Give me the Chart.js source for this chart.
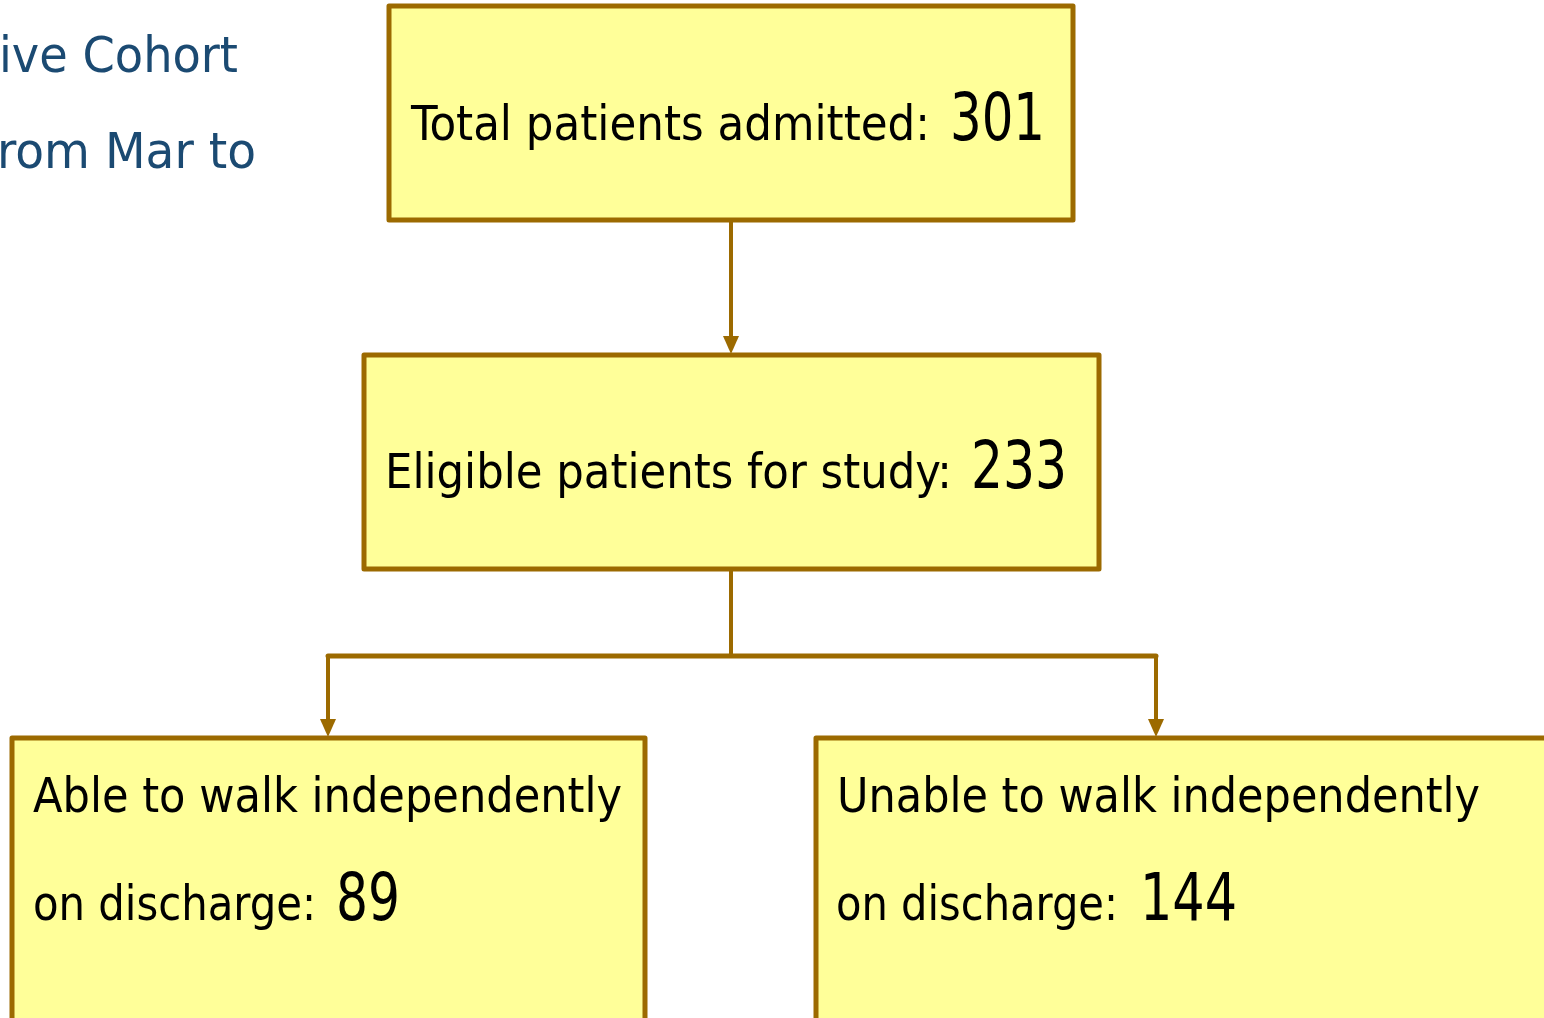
<!DOCTYPE html>
<html>
<head>
<meta charset="utf-8">
<script src="https://cdn.jsdelivr.net/npm/chart.js@4.4.1/dist/chart.umd.min.js"></script>
<style>
  html, body { margin: 0; padding: 0; background: #fff; }
  #wrap { width: 1544px; height: 1018px; overflow: hidden; }
</style>
</head>
<body>
<div id="wrap"><canvas id="flow" width="1544" height="1018"></canvas></div>
<script>
// flowchart data
const nodeLabels = [
  ['Total patients admitted:'],
  ['Eligible patients for study:'],
  ['Able to walk independently', 'on discharge:'],
  ['Unable to walk independently', 'on discharge:']
];
const nodeCounts = [301, 233, 89, 144];
const sideText = ['ive Cohort', 'rom Mar to'];

// layout in scale units (canvas is mapped 1:1 by the hidden axes)
// each line: baseline y, label span [x, r], number span [nx, nr] on the last line
const boxes = [
  { x0: 389, x1: 1073, y0: 6, y1: 220, lines: [{ y: 140, x: 411, r: 930, nx: 950, nr: 1045 }] },
  { x0: 364, x1: 1099, y0: 355, y1: 569, lines: [{ y: 488, x: 385, r: 952, nx: 971, nr: 1067 }] },
  { x0: 12, x1: 645, y0: 738, y1: 1030, lines: [{ y: 812, x: 33, r: 622 }, { y: 920, x: 33, r: 316, nx: 336, nr: 400 }] },
  { x0: 816, x1: 1560, y0: 738, y1: 1030, lines: [{ y: 812, x: 837, r: 1480 }, { y: 920, x: 836, r: 1118, nx: 1140, nr: 1237 }] }
];
const sideLines = [{ x: -1, r: 238, y: 72 }, { x: -3, r: 256, y: 168 }];

const FONT = '"DejaVu Sans Condensed", "Liberation Sans Narrow", "DejaVu Sans", sans-serif';
const BORDER = '#9C6A00';
const FILL = '#FFFF99';

function drawFitted(ctx, text, size, x, y, right) {
  // squeeze/stretch one run of text so it spans x..right
  ctx.font = size + 'px ' + FONT;
  const w = ctx.measureText(text).width;
  ctx.save();
  ctx.translate(x, y);
  ctx.scale((right - x) / w, 1);
  ctx.fillText(text, 0, 0);
  ctx.restore();
}

function arrowHead(ctx, x, y) {
  ctx.beginPath();
  ctx.moveTo(x, y);
  ctx.lineTo(x - 8, y - 18);
  ctx.lineTo(x + 8, y - 18);
  ctx.closePath();
  ctx.fill();
}

const flowPlugin = {
  id: 'flowPlugin',
  afterDatasetsDraw(chart) {
    const ctx = chart.ctx;
    const sx = v => chart.scales.x.getPixelForValue(v);
    const sy = v => chart.scales.y.getPixelForValue(v);

    // connectors
    ctx.save();
    ctx.strokeStyle = BORDER;
    ctx.fillStyle = BORDER;
    ctx.lineWidth = 4;
    ctx.lineCap = 'butt';
    const b = boxes;
    const midTop = sx(731);
    ctx.beginPath();
    ctx.moveTo(midTop, sy(b[0].y1));
    ctx.lineTo(midTop, sy(b[1].y0) - 14);
    ctx.stroke();
    arrowHead(ctx, midTop, sy(b[1].y0) - 1);

    const elbowY = sy(656);
    const leftX = sx(328), rightX = sx(1156);
    ctx.beginPath();
    ctx.moveTo(midTop, sy(b[1].y1));
    ctx.lineTo(midTop, elbowY);
    ctx.stroke();
    ctx.lineWidth = 5;
    ctx.lineCap = 'round';
    ctx.beginPath();
    ctx.moveTo(leftX, elbowY);
    ctx.lineTo(rightX, elbowY);
    ctx.stroke();
    ctx.lineWidth = 4;
    ctx.lineCap = 'butt';
    [leftX, rightX].forEach(x => {
      ctx.beginPath();
      ctx.moveTo(x, elbowY);
      ctx.lineTo(x, sy(b[2].y0) - 14);
      ctx.stroke();
      arrowHead(ctx, x, sy(b[2].y0) - 1);
    });
    ctx.restore();

    // boxes
    boxes.forEach((bx, i) => {
      const x0 = sx(bx.x0), x1 = sx(bx.x1), y0 = sy(bx.y0), y1 = sy(bx.y1);
      ctx.save();
      ctx.fillStyle = FILL;
      ctx.fillRect(x0, y0, x1 - x0, y1 - y0);
      ctx.strokeStyle = BORDER;
      ctx.lineWidth = 5;
      ctx.lineJoin = 'round';
      ctx.strokeRect(x0, y0, x1 - x0, y1 - y0);
      ctx.fillStyle = '#000';
      ctx.textBaseline = 'alphabetic';
      nodeLabels[i].forEach((txt, li) => {
        const ln = bx.lines[li];
        drawFitted(ctx, txt, 48, sx(ln.x), sy(ln.y), sx(ln.r));
        if (ln.nx !== undefined) {
          drawFitted(ctx, String(nodeCounts[i]), 66, sx(ln.nx), sy(ln.y), sx(ln.nr));
        }
      });
      ctx.restore();
    });

    // cut-off title text on the left
    ctx.save();
    ctx.fillStyle = '#1B4A72';
    sideText.forEach((t, i) => {
      const ln = sideLines[i];
      drawFitted(ctx, t, 50, sx(ln.x), sy(ln.y), sx(ln.r));
    });
    ctx.restore();
  }
};

new Chart(document.getElementById('flow'), {
  type: 'scatter',
  data: {
    datasets: [{
      data: boxes.map(bx => ({ x: (bx.x0 + bx.x1) / 2, y: (bx.y0 + bx.y1) / 2 })),
      pointRadius: 0
    }]
  },
  options: {
    responsive: false,
    animation: false,
    layout: { padding: 0 },
    scales: {
      x: { type: 'linear', min: 0, max: 1544, display: false },
      y: { type: 'linear', min: 0, max: 1018, reverse: true, display: false }
    },
    plugins: { legend: { display: false }, tooltip: { enabled: false } }
  },
  plugins: [flowPlugin]
});
</script>
</body>
</html>
